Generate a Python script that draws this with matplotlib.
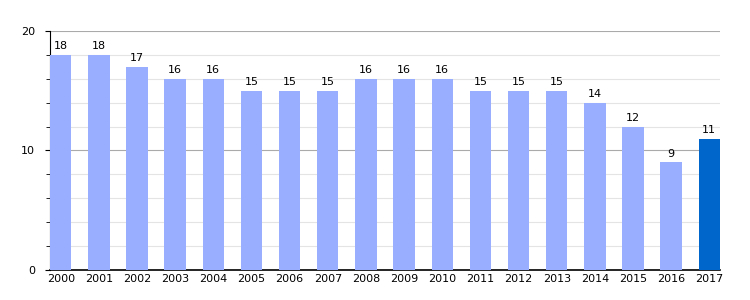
import matplotlib
matplotlib.use("Agg")
from matplotlib import pyplot as plt
import numpy as np

years = [str(y) for y in range(2000, 2018)]
values = [18, 18, 17, 16, 16, 15, 15, 15, 16, 16, 16, 15, 15, 15, 14, 12, 9, 11]
colors = ['#99aeff'] * 17 + ['#0066cc']

fig = plt.figure(figsize=(7.5, 3), dpi=100)
ax = fig.add_axes([0.0667, 0.1, 0.8933, 0.7967])

x = np.arange(len(years))
ax.bar(x, values, width=0.56, color=colors, zorder=3)
for xi, v in zip(x, values):
    ax.text(xi, v + 0.3, str(v), ha='center', va='bottom', fontsize=8, zorder=4)

ax.set_xlim(-0.28, len(years) - 1 + 0.28)
ax.set_ylim(0, 20)
ax.set_xticks(x)
ax.set_xticklabels(years, fontsize=8)
ax.set_yticks([0, 10, 20])
ax.set_yticks(np.arange(0, 21, 2), minor=True)
ax.tick_params(axis='y', labelsize=8, length=3.6, width=0.8, pad=7)
ax.tick_params(axis='y', which='minor', length=3, width=0.6)
ax.tick_params(axis='x', length=0, pad=3)

ax.grid(axis='y', which='minor', color='#e4e4e4', linewidth=0.8, zorder=0)
ax.grid(axis='y', which='major', color='#aaaaaa', linewidth=0.8, zorder=1)

ax.spines['top'].set_visible(False)
ax.spines['right'].set_visible(False)
ax.spines['left'].set_color('black')
ax.spines['bottom'].set_color('black')
ax.spines['left'].set_linewidth(0.8)
ax.spines['bottom'].set_linewidth(1.2)

fig.savefig('out.png', dpi=100)
